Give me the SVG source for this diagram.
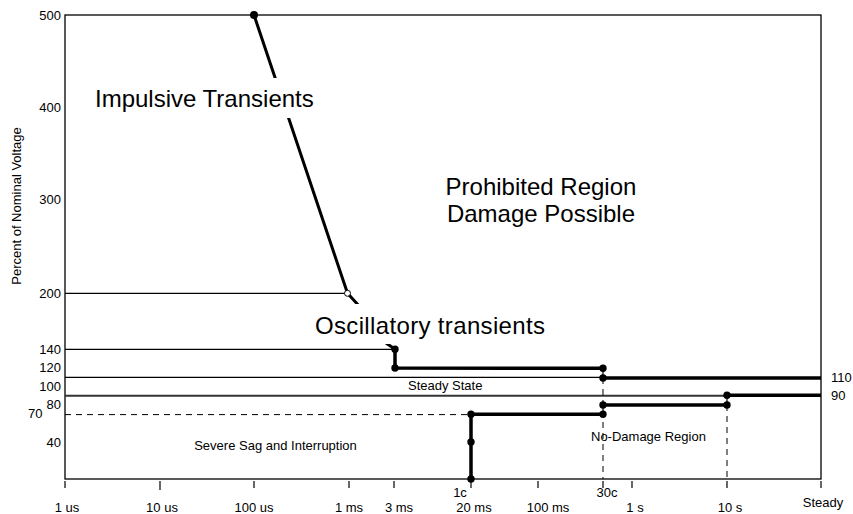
<svg xmlns="http://www.w3.org/2000/svg" width="853" height="514" viewBox="0 0 853 514">
<style>
text{font-family:"Liberation Sans",Arial,sans-serif;fill:#000}
.tick{font-size:13px}
.ax{fill:none;stroke:#000;stroke-width:1.3}
.thin{fill:none;stroke:#000;stroke-width:1.2}
.thick{fill:none;stroke:#000;stroke-width:3.5;stroke-linecap:butt}
.dash{fill:none;stroke:#000;stroke-width:1;stroke-dasharray:6,5}
.big{font-size:24px}
.lbl{font-size:13px}
.dot{fill:#000}
</style>
<rect width="853" height="514" fill="#fff"/>
<g id="axes">
<rect class="ax" x="65" y="15" width="756" height="464"/>
<g class="thin">
<line x1="65" y1="481" x2="65" y2="488"/>
<line x1="160" y1="481" x2="160" y2="490"/>
<line x1="254" y1="481" x2="254" y2="488"/>
<line x1="349" y1="481" x2="349" y2="488"/>
<line x1="394" y1="481" x2="394" y2="488"/>
<line x1="471" y1="481" x2="471" y2="488"/>
<line x1="538" y1="481" x2="538" y2="488"/>
<line x1="603" y1="481" x2="603" y2="488"/>
<line x1="632" y1="481" x2="632" y2="488"/>
<line x1="727" y1="481" x2="727" y2="488"/>
<line x1="821" y1="481" x2="821" y2="488"/>
</g>
<g class="tick" text-anchor="end">
<text x="61" y="19.5">500</text>
<text x="61" y="111.5">400</text>
<text x="61" y="204">300</text>
<text x="61" y="298">200</text>
<text x="61" y="354">140</text>
<text x="61" y="371.5">120</text>
<text x="61" y="390.5">100</text>
<text x="61" y="409">80</text>
<text x="42.5" y="418">70</text>
<text x="61" y="447">40</text>
</g>
<g class="tick">
<text x="831" y="381.5">110</text>
<text x="831" y="400">90</text>
</g>
<g class="tick" text-anchor="middle">
<text x="67" y="511.5">1 us</text>
<text x="162" y="511.5">10 us</text>
<text x="254" y="511.5">100 us</text>
<text x="349" y="511.5">1 ms</text>
<text x="399" y="511.5">3 ms</text>
<text x="460" y="497">1c</text>
<text x="474" y="511.5">20 ms</text>
<text x="548" y="511.5">100 ms</text>
<text x="607" y="497">30c</text>
<text x="635" y="511.5">1 s</text>
<text x="730" y="511.5">10 s</text>
<text x="823" y="506.5">Steady</text>
</g>
<text class="tick" transform="translate(21,206) rotate(-90)" text-anchor="middle" font-size="12.5">Percent of Nominal Voltage</text>
</g>
<g id="connectors">
<line class="thin" x1="65" y1="293.3" x2="346" y2="293.3"/>
<line class="thin" x1="65" y1="349.3" x2="395" y2="349.3"/>
<line class="thin" x1="65" y1="377.4" x2="603" y2="377.4"/>
<line x1="65" y1="395.7" x2="727" y2="395.7" stroke="#333" stroke-width="2"/>
<line class="dash" x1="65" y1="414.6" x2="471" y2="414.6"/>
<line class="dash" x1="603" y1="378" x2="603" y2="479"/>
<line class="dash" x1="727" y1="405" x2="727" y2="479"/>
<polyline fill="none" stroke="#000" stroke-width="3" points="254,15 347.5,293.3 370,318"/>
<polyline fill="none" stroke="#000" stroke-width="3" points="386,343 395,349.3"/>
<polyline class="thick" points="395,349.3 395,368 603,368.3"/>
<line class="thick" x1="603" y1="378" x2="821" y2="378"/>
<line class="thick" x1="727" y1="395.3" x2="821" y2="395.3"/>
<line class="thick" x1="603" y1="405" x2="727" y2="405"/>
<polyline class="thick" points="603,414.3 471,414.3 471,479"/>
<line class="thin" x1="603" y1="368.3" x2="603" y2="378"/>
<line class="thin" x1="603" y1="405" x2="603" y2="414.3"/>
<line class="thin" x1="727" y1="395.3" x2="727" y2="405"/>
</g>
<g id="dots">
<circle class="dot" cx="254" cy="15" r="4"/>
<circle cx="347.5" cy="293.3" r="3" fill="#fff" stroke="#000" stroke-width="1"/>
<circle class="dot" cx="395" cy="349.3" r="3.7"/>
<circle class="dot" cx="395" cy="368" r="3.7"/>
<circle class="dot" cx="603" cy="368.3" r="3.7"/>
<circle class="dot" cx="603" cy="378" r="3.7"/>
<circle class="dot" cx="727" cy="395.3" r="3.7"/>
<circle class="dot" cx="727" cy="405" r="3.7"/>
<circle class="dot" cx="603" cy="405" r="3.7"/>
<circle class="dot" cx="603" cy="414.3" r="3.7"/>
<circle class="dot" cx="471" cy="414.3" r="3.7"/>
<circle class="dot" cx="471" cy="442" r="3.7"/>
<circle class="dot" cx="471" cy="479" r="3.7"/>
</g>
<g id="impulsive">
<rect x="92" y="78" width="225" height="40" fill="#fff"/>
<text class="big" x="95" y="107">Impulsive Transients</text>
</g>
<g id="oscillatory">
<rect x="312" y="304" width="237" height="40" fill="#fff"/>
<text class="big" x="315" y="333.5" font-size="24.5" textLength="230">Oscillatory transients</text>
</g>
<g id="prohibited">
<text class="big" x="541" y="195" text-anchor="middle">Prohibited Region</text>
<text class="big" x="541" y="221.7" text-anchor="middle">Damage Possible</text>
</g>
<g id="steady-state"><text class="lbl" x="408" y="390">Steady State</text></g>
<g id="sag"><text class="lbl" x="275.5" y="450" text-anchor="middle" font-size="14">Severe Sag and Interruption</text></g>
<g id="no-damage"><text class="lbl" x="591" y="441">No-Damage Region</text></g>
</svg>
